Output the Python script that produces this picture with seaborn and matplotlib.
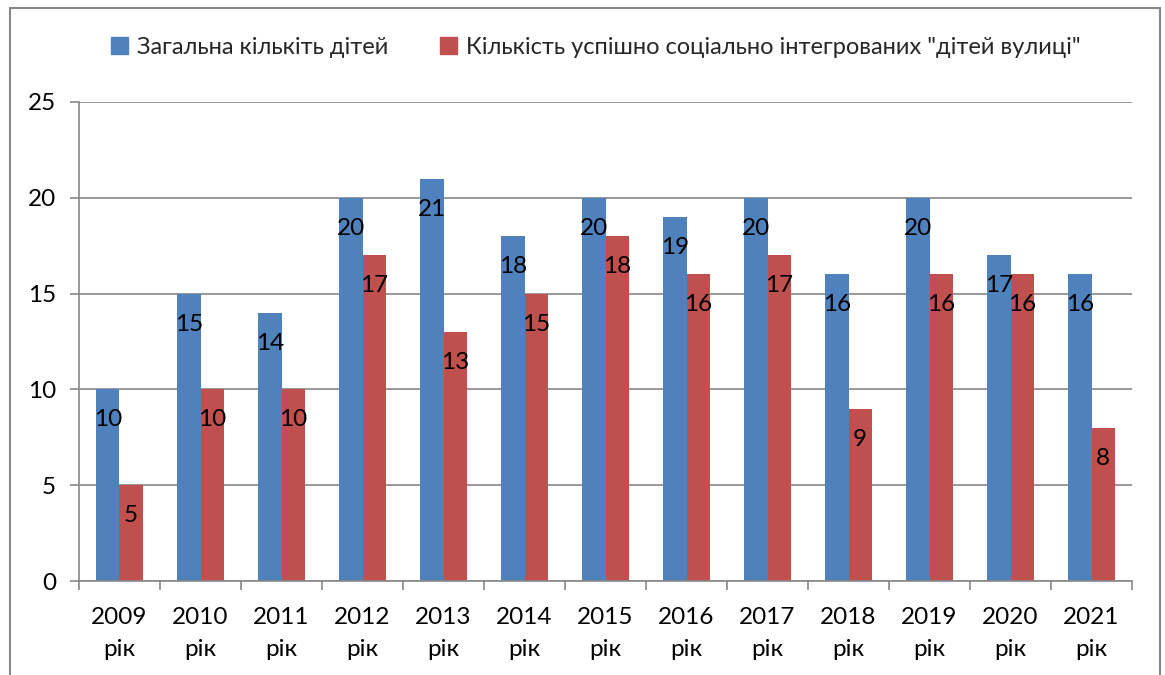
import matplotlib
matplotlib.use("Agg")
import matplotlib.pyplot as plt
import seaborn as sns
import pandas as pd
import numpy as np
from matplotlib.patches import Rectangle
from matplotlib.ticker import FixedLocator

years = ["2009\nрік", "2010\nрік", "2011\nрік", "2012\nрік", "2013\nрік", "2014\nрік",
         "2015\nрік", "2016\nрік", "2017\nрік", "2018\nрік", "2019\nрік", "2020\nрік", "2021\nрік"]
total_children = [10, 15, 14, 20, 21, 18, 20, 19, 20, 16, 20, 17, 16]
integrated_children = [5, 10, 10, 17, 13, 15, 18, 16, 17, 9, 16, 16, 8]
series_names = ["Загальна кількіть дітей",
                'Кількість успішно соціально інтегрованих "дітей вулиці"']
colors = ["#4F81BD", "#C0504D"]

df = pd.concat([
    pd.DataFrame({"year": years, "value": total_children, "series": series_names[0]}),
    pd.DataFrame({"year": years, "value": integrated_children, "series": series_names[1]}),
])

sns.set_theme(style="white")
plt.rcParams['font.family'] = ['Lato', 'DejaVu Sans']

fig = plt.figure(figsize=(11.65, 6.75), dpi=100)
ax = fig.add_axes([79/1165, 1-581/675, (1132-79)/1165, (581-102)/675])

sns.barplot(data=df, x="year", y="value", hue="series", palette=colors,
            width=0.57, gap=0, ax=ax, legend=False, saturation=1, linewidth=0)

ax.set_ylim(0, 25)
ax.set_xlim(-0.5, len(years) - 0.5)
ax.set_yticks([0, 5, 10, 15, 20, 25])
ax.yaxis.grid(True, color="#888888", linewidth=1.2)
ax.set_axisbelow(True)
ax.set_xlabel("")
ax.set_ylabel("")
for s in ["top", "right"]:
    ax.spines[s].set_visible(False)
for s in ["left", "bottom"]:
    ax.spines[s].set_color("#888888")
    ax.spines[s].set_linewidth(1.2)

ax.tick_params(axis="y", which="major", length=6.5, width=1.2, color="#888888",
               labelsize=17.5, pad=10, left=True, labelcolor="black")
ax.tick_params(axis="x", which="major", length=0, labelsize=17.5, pad=19, labelcolor="black")
ax.xaxis.set_minor_locator(FixedLocator(np.arange(-0.5, len(years), 1.0)))
ax.tick_params(axis="x", which="minor", length=6.5, width=1.2, color="#888888", bottom=True)
for lbl in ax.get_xticklabels():
    lbl.set_linespacing(1.65)

for p in ax.patches:
    h = p.get_height()
    if h > 0:
        ax.annotate(f"{h:.0f}", (p.get_x() + p.get_width() / 2, h),
                    xytext=(0, -22), textcoords="offset points",
                    ha="center", va="center", fontsize=17.5, color="black")

handles = [Rectangle((0, 0), 1, 1, color=c) for c in colors]
fig.legend(handles, series_names, loc="center", bbox_to_anchor=(596/1165, 1-47/675),
           ncol=2, frameon=False, fontsize=17, handlelength=0.7, handleheight=0.7,
           handletextpad=0.4, columnspacing=2.2)

fig.patches.append(Rectangle((10/1165, -0.02), (1160-10)/1165, 1.02 - 8/675,
                             transform=fig.transFigure, fill=False,
                             edgecolor="#888888", linewidth=1.5))

fig.savefig("out.png", dpi=100)
